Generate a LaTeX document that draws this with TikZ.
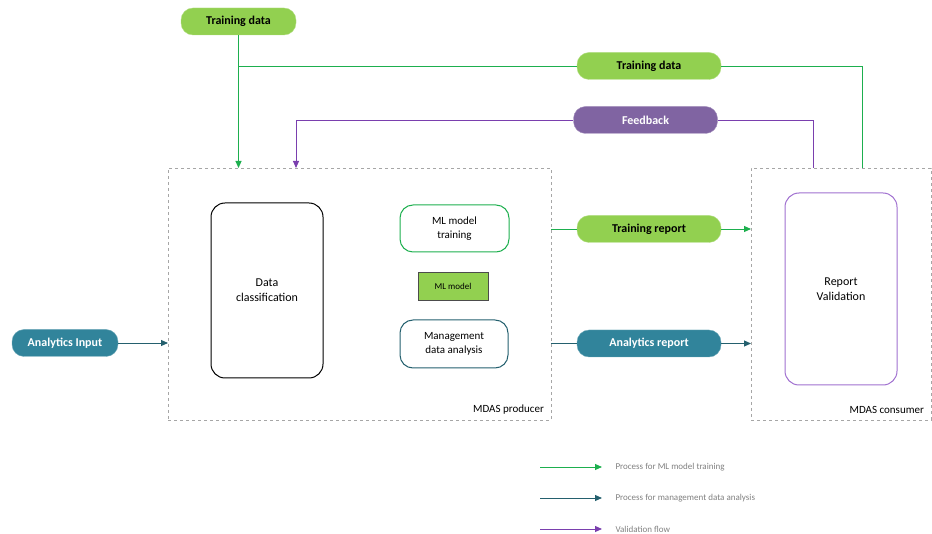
\documentclass[tikz,border=0pt]{standalone}
\usepackage{fontspec}
\setmainfont{Carlito}
\usetikzlibrary{arrows.meta,calc}
\definecolor{pillgreen}{HTML}{92D050}
\definecolor{pillteal}{HTML}{31849B}
\definecolor{pillpurple}{HTML}{8064A2}
\definecolor{lgreen}{HTML}{1DAF4E}
\definecolor{lteal}{HTML}{24606E}
\definecolor{lpurple}{HTML}{7A3FAE}
\definecolor{boxgray}{HTML}{A6A6A6}
\definecolor{bpurple}{HTML}{A070D0}
\begin{document}
\begin{tikzpicture}[x=1pt,y=-1pt,
  pill/.style={rounded corners=12pt,minimum height=27pt,minimum width=144pt,inner sep=0pt,font=\fontsize{12}{14}\selectfont\bfseries},
  gpill/.style={pill,fill=pillgreen,draw=pillgreen!70!white,text=black},
  tpill/.style={pill,fill=pillteal,draw=pillteal!70!white,text=white},
  ppill/.style={pill,fill=pillpurple,draw=pillpurple!70!white,text=white},
  region/.style={draw=boxgray,dashed,line width=0.8pt,inner sep=0pt},
  inbox/.style={rounded corners=14pt,line width=1pt,inner sep=0pt,align=center,font=\fontsize{12}{15}\selectfont},
  gline/.style={draw=lgreen,line width=0.9pt},
  tline/.style={draw=lteal,line width=0.9pt},
  pline/.style={draw=lpurple,line width=0.9pt},
  tip/.style={-{Triangle[length=7pt,width=6pt]}},
  legtext/.style={anchor=west,text=gray,font=\fontsize{9}{11}\selectfont},
  regionlabel/.style={anchor=south east,font=\fontsize{11}{13}\selectfont}
]
\useasboundingbox (0,0) rectangle (932,534);
% regions
\node[region,minimum width=383pt,minimum height=252pt] (prod) at (359.5,294) {};
\node[region,minimum width=180pt,minimum height=252pt] (cons) at (841,294) {};
\node[regionlabel] (prodlbl) at ($(prod.south east)+(-4,-3)$) {MDAS producer};
\node[regionlabel] (conslbl) at ($(cons.south east)+(-4,-3)$) {MDAS consumer};
% inner boxes
\node[inbox,draw=black,minimum width=112pt,minimum height=175pt] (dc) at (267,290.5) {Data\\classification};
\node[inbox,draw=lgreen,minimum width=109pt,minimum height=47pt,rounded corners=13pt,font=\fontsize{11}{14}\selectfont] (mlt) at (454.5,228.5) {ML model\\training};
\node[draw=black!70,fill=pillgreen,line width=0.8pt,minimum width=70pt,minimum height=28pt,inner sep=0pt,font=\fontsize{9}{11}\selectfont] (mlm) at (453,286) {ML model};
\node[inbox,draw=lteal,minimum width=108pt,minimum height=48pt,rounded corners=13pt,font=\fontsize{11}{14}\selectfont] (mda) at (454,344) {Management\\data analysis};
\node[inbox,draw=bpurple,minimum width=112pt,minimum height=192pt] (rv) at (841,289) {Report\\Validation};
% pills
\node[gpill,minimum width=115pt] (td1) at (238.5,21.5) {Training data};
\node[gpill] (td2) at (649,66) {Training data};
\node[ppill] (fb) at (645.5,120) {Feedback};
\node[gpill] (tr) at (649,229) {Training report};
\node[tpill] (ar) at (649,343.5) {Analytics report};
\node[tpill,minimum width=106pt] (ai) at (65,343) {Analytics Input};
% coordinates
\coordinate (tdbr) at (238.5,66);
\coordinate (tdin) at (238.5,168);
\coordinate (tdc) at (862,66);
\coordinate (tdcin) at (862,168);
\coordinate (fbc) at (813,120);
\coordinate (fbcin) at (813,168);
\coordinate (fbl) at (296,120);
\coordinate (fbin) at (296,168);
\coordinate (trout) at (551,229);
\coordinate (trin) at (751,229);
\coordinate (arout) at (551,343.5);
\coordinate (arin) at (751,343.5);
\coordinate (aiin) at (168,343);
% connectors
\draw[gline,tip] (td1.south) -- (tdin);
\draw[gline] (tdbr) -- (td2.west);
\draw[gline] (td2.east) -- (tdc) -- (tdcin);
\draw[pline] (fbcin) -- (fbc) -- (fb.east);
\draw[pline,tip] (fb.west) -- (fbl) -- (fbin);
\draw[gline] (trout) -- (tr.west);
\draw[gline,tip] (tr.east) -- (trin);
\draw[tline] (arout) -- (ar.west);
\draw[tline,tip] (ar.east) -- (arin);
\draw[tline,tip] (ai.east) -- (aiin);
% legend
\coordinate (l1a) at (540,467); \coordinate (l1b) at (602,467);
\coordinate (l2a) at (540,498); \coordinate (l2b) at (602,498);
\coordinate (l3a) at (540,529); \coordinate (l3b) at (602,529);
\draw[gline,tip] (l1a) -- (l1b);
\draw[tline,tip] (l2a) -- (l2b);
\draw[pline,tip] (l3a) -- (l3b);
\node[legtext] (lg1) at (612,467) {Process for ML model training};
\node[legtext] (lg2) at (612,498) {Process for management data analysis};
\node[legtext] (lg3) at (612,529) {Validation flow};
\end{tikzpicture}
\end{document}
